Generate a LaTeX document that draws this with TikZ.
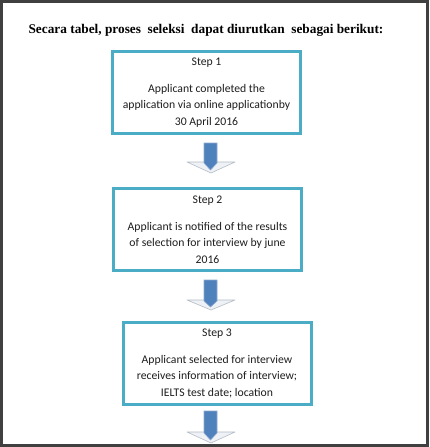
\documentclass[tikz,border=0pt]{standalone}
\usepackage{fontspec}
\setmainfont{Carlito}
\newfontfamily\titlefont{Liberation Serif}
\begin{document}
\begin{tikzpicture}[x=1pt,y=-1pt,
  stepbox/.style={draw=boxteal, line width=3pt, minimum width=188pt, minimum height=82pt,
    align=center, font=\fontsize{11.7}{16.5}\selectfont, text=textdark, inner sep=0pt},
  shaftfill/.style={fill=arrowblue, draw=arrowedge, line width=0.6pt},
  headfill/.style={fill=headgray, draw=headedge, line width=0.6pt, line join=round}]
\definecolor{framegray}{HTML}{404040}
\definecolor{boxteal}{HTML}{4BACC6}
\definecolor{textdark}{HTML}{1E1E1E}
\definecolor{arrowblue}{HTML}{4F81BD}
\definecolor{arrowedge}{HTML}{8FAAD0}
\definecolor{headgray}{HTML}{EEF1F5}
\definecolor{headedge}{HTML}{B4BCC6}
\useasboundingbox (0,0) rectangle (429,447);
\fill[framegray] (0,0) rectangle (429,447);
\fill[white] (3,3) rectangle (426,444);

\node[font=\titlefont\bfseries\fontsize{13.3}{15}\selectfont, text=black, anchor=base] (title) at (206,33)
  {Secara tabel, proses\ \ seleksi\ \ dapat diurutkan\ \ sebagai berikut:};

\node[stepbox] (box1) at (206.5,92.5) {Step 1\\[10pt]Applicant completed the\\application via online applicationby\\30 April 2016};
\node[stepbox] (box2) at (207.5,229.5) {Step 2\\[10pt]Applicant is notified of the results\\of selection for interview by june\\2016};
\node[stepbox] (box3) at (217,363.5) {Step 3\\[10pt]Applicant selected for interview\\receives information of interview;\\IELTS test date; location};

% arrows (shapes)
\foreach \t/\b/\p in {143/162/173, 280/300/310, 411/432/443}{
  \draw[headfill] (187,\b) -- (235,\b) -- (211,\p) -- cycle;
  \draw[shaftfill] (204,\t) -- (217,\t) -- (217,\b+1) -- (210.5,\p-3) -- (204,\b+1) -- cycle;
}
\end{tikzpicture}
\end{document}
